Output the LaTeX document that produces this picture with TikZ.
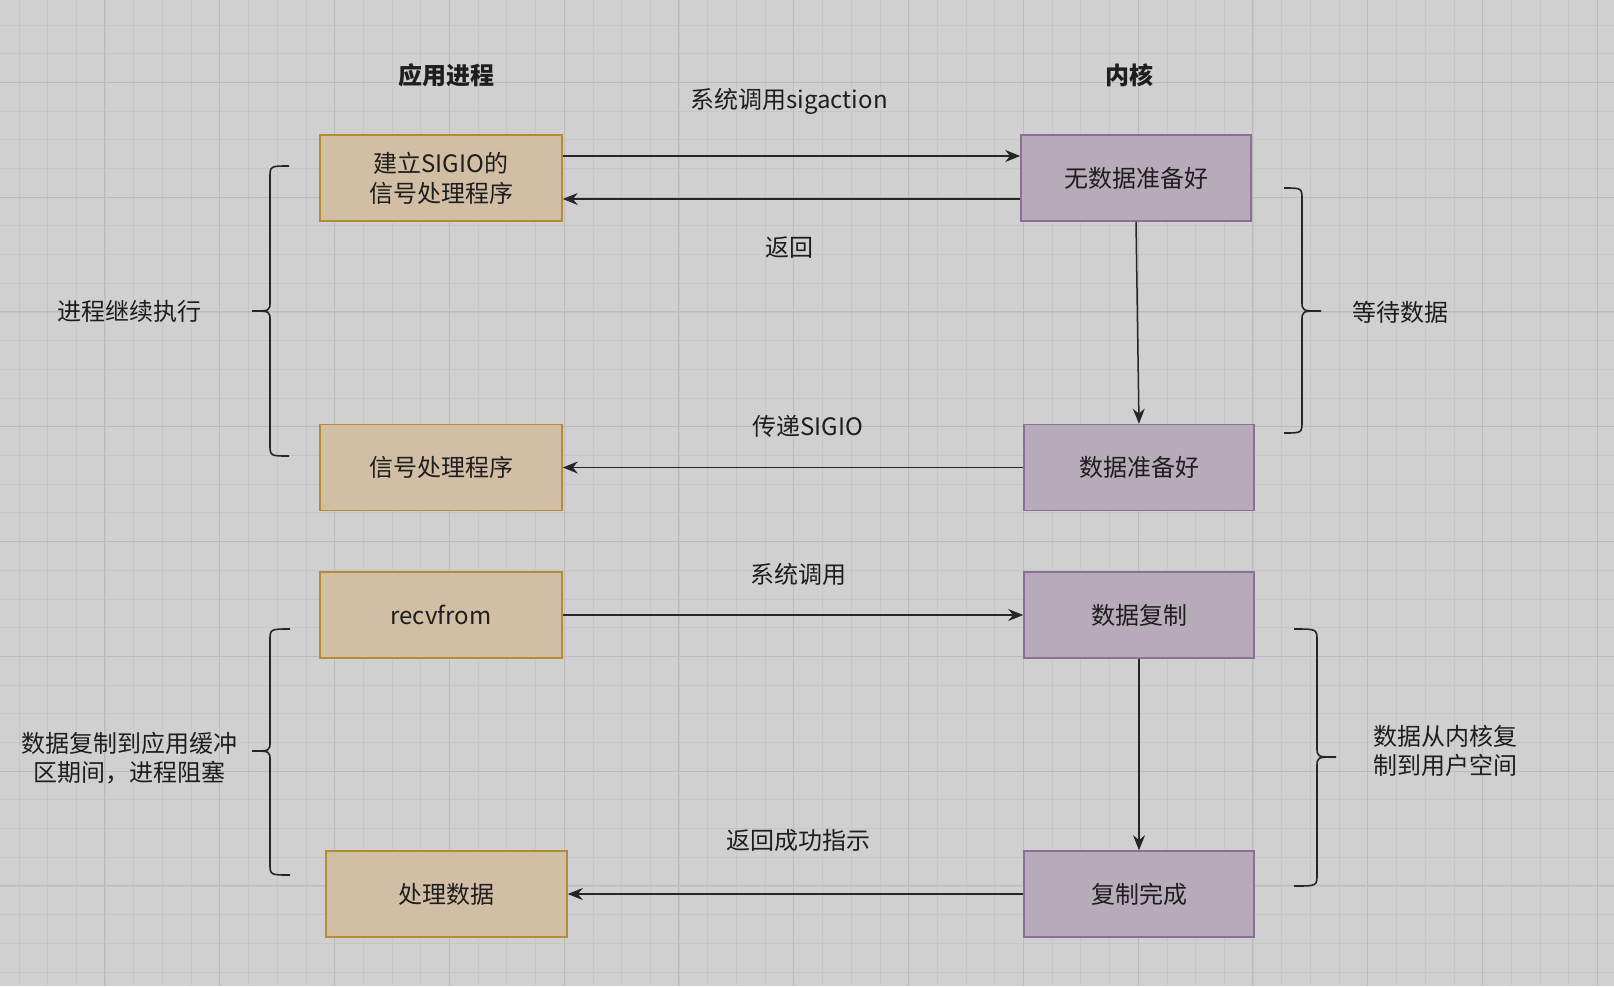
\documentclass[tikz,border=0pt]{standalone}
\usepackage{fontspec}
\setmainfont{Noto Sans CJK SC}
\usetikzlibrary{arrows.meta}
\definecolor{bgcol}{HTML}{D0D0D0}
\definecolor{minorcol}{HTML}{C6C6C6}
\definecolor{majorcol}{HTML}{BBBBBB}
\definecolor{appfill}{HTML}{D2BEA5}
\definecolor{appline}{HTML}{B58C36}
\definecolor{kfill}{HTML}{B7ABB9}
\definecolor{kline}{HTML}{8C6F99}
\definecolor{txt}{HTML}{1E1E1E}

% brace: tip x, spine x, middle tip x, top y, middle y, bottom y
\newcommand\curlybrace[6]{%
  \draw[brace] (#1,#4) .. controls (#2,#4) .. (#2,#4+12) -- (#2,#5-10)
    .. controls (#2,#5) .. (#3,#5) .. controls (#2,#5) .. (#2,#5+10)
    -- (#2,#6-12) .. controls (#2,#6) .. (#1,#6);}

\begin{document}
\begin{tikzpicture}[x=1pt,y=-1pt,
  every node/.style={font=\fontsize{24}{30}\selectfont,text=txt},
  appbox/.style={draw=appline,fill=appfill,line width=1.6pt,minimum width=242pt,minimum height=86pt,align=center,inner sep=0pt},
  kbox/.style={draw=kline,fill=kfill,line width=1.6pt,minimum width=230pt,minimum height=86pt,align=center,inner sep=0pt},
  lbl/.style={align=center,inner sep=0pt},
  link/.style={-{Stealth[length=15pt,width=12pt]},line width=1.5pt,draw=black!85},
  brace/.style={line width=1.6pt,draw=black!85}]
\def\appX{441}
\def\kX{1139}
\fill[bgcol] (0,0) rectangle (1614,986);
\useasboundingbox (0,0) rectangle (1614,986);
% grid
\foreach \i in {0,...,56} \draw[minorcol,line width=0.8pt] (18.9+\i*28.7,0) -- ++(0,986);
\foreach \i in {0,...,34} \draw[minorcol,line width=0.8pt] (0,24.9+\i*28.7) -- ++(1614,0);
\foreach \i in {0,...,14} \draw[majorcol,line width=1pt] (-9.9+\i*114.8,0) -- ++(0,986);
\foreach \i in {0,...,8} \draw[majorcol,line width=1pt] (0,-32.5+\i*114.8) -- ++(1614,0);

\node[lbl,font=\fontsize{24}{30}\selectfont\bfseries] (hApp) at (446,75) {应用进程};
\node[lbl,font=\fontsize{24}{30}\selectfont\bfseries] (hKern) at (1129,75) {内核};

\node[appbox] (setup) at (\appX,178) {建立SIGIO的\\信号处理程序};
\node[appbox] (handler) at (\appX,467.5) {信号处理程序};
\node[appbox] (recv) at (\appX,615) {recvfrom};
\node[appbox,minimum width=241pt] (process) at (446.5,894) {处理数据};

\node[kbox] (nodata) at (1136,178) {无数据准备好};
\node[kbox] (ready) at (\kX,467.5) {数据准备好};
\node[kbox] (copy) at (\kX,615) {数据复制};
\node[kbox] (done) at (\kX,894) {复制完成};

\draw[link] ([yshift=22pt]setup.east) -- ([yshift=22pt]nodata.west);
\draw[link] ([yshift=-21pt]nodata.west) -- ([yshift=-21pt]setup.east);
\draw[link] (nodata.south) -- (ready.north);
\draw[link] (ready.west) -- (handler.east);
\draw[link] (recv.east) -- (copy.west);
\draw[link] (copy.south) -- (done.north);
\draw[link] (done.west) -- (process.east);

\node[lbl] (sigact) at (789,101) {系统调用sigaction};
\node[lbl] (ret) at (789,248) {返回};
\node[lbl] (deliver) at (808,426) {传递SIGIO};
\node[lbl] (syscall) at (798,574) {系统调用};
\node[lbl] (retok) at (798,840) {返回成功指示};

\curlybrace{289}{270}{252}{166}{311}{456}
\curlybrace{1284}{1302}{1321}{188}{311}{433}
\curlybrace{290}{270}{252}{629}{751}{875}
\curlybrace{1294}{1317}{1336}{629}{757}{886}

\node[lbl] (cont) at (129,311) {进程继续执行};
\node[lbl] (wait) at (1400,312) {等待数据};
\node[lbl,font=\fontsize{24}{29}\selectfont] (block) at (129,758) {数据复制到应用缓冲\\区期间，进程阻塞};
\node[lbl,align=left,font=\fontsize{24}{29}\selectfont] (kcopy) at (1445,751) {数据从内核复\\制到用户空间};
\end{tikzpicture}
\end{document}
